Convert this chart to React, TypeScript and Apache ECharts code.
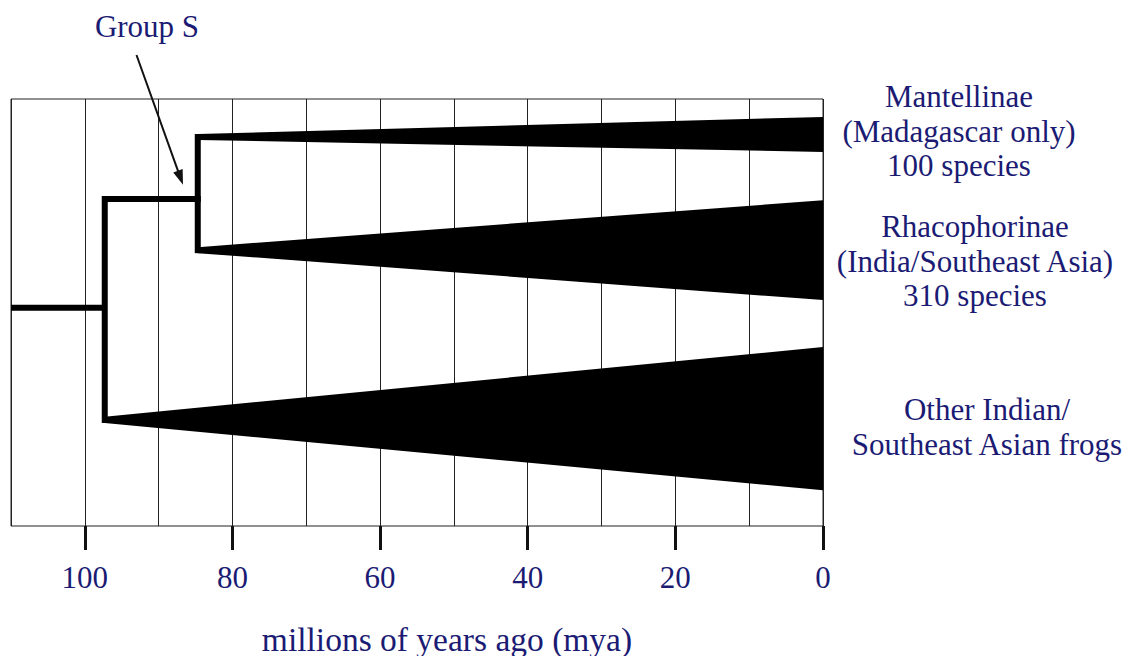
import React, { useEffect, useRef } from "react";
import * as echarts from "echarts";

// x axis: millions of years ago (reversed, 110 at left, 0 at right)
const ageTicks = [100, 80, 60, 40, 20, 0];
const axisTitle = "millions of years ago (mya)";
const annotationText = "Group S";

// clade labels (one entry per wedge)
const cladeLabels = [
  ["Mantellinae", "(Madagascar only)", "100 species"],
  ["Rhacophorinae", "(India/Southeast Asia)", "310 species"],
  ["Other Indian/", "Southeast Asian frogs"],
];

// wedges (age in mya, vertical position on a 0-100 scale, top = 0)
const wedgeStartAge = [84.7, 84.7, 97.3];
const wedgeTipTop = [8.2, 34.7, 74.4];
const wedgeTipBottom = [9.6, 36.1, 75.9];
const wedgeEndAge = [0, 0, 0];
const wedgeEndTop = [4.2, 23.7, 58.1];
const wedgeEndBottom = [12.4, 47.1, 91.6];

// tree stems [age, position]
const rootStem = [
  [110, 48.9],
  [97.3, 48.9],
];
const nodeAStem = [
  [97.3, 75.2],
  [97.3, 23.4],
  [84.7, 23.4],
];
const nodeBStem = [
  [84.7, 8.9],
  [84.7, 35.4],
];

// Group S arrow [age, position]
const arrowFrom = [93.0, -10.3];
const arrowTo = [86.7, 20.1];

export default function App() {
  const ref = useRef<HTMLDivElement>(null);

  useEffect(() => {
    const chart = echarts.init(ref.current!, null, { renderer: "svg" });
    const navy = "#1b1b74";
    const family = "Liberation Serif";

    const wedgeData = wedgeStartAge.map((s, i) => [
      s,
      wedgeTipTop[i],
      wedgeTipBottom[i],
      wedgeEndAge[i],
      wedgeEndTop[i],
      wedgeEndBottom[i],
    ]);

    const stemStyle = {
      color: "#000",
      width: 6,
      cap: "square" as const,
      join: "miter" as const,
    };

    chart.setOption({
      animation: false,
      textStyle: { fontFamily: family },
      grid: {
        left: 11,
        right: 309,
        top: 99,
        bottom: 130,
        show: true,
        borderColor: "#222",
        borderWidth: 1,
        backgroundColor: "transparent",
      },
      xAxis: [
        {
          type: "value",
          position: "top",
          min: 0,
          max: 110,
          interval: 10,
          inverse: true,
          axisLine: { show: false },
          axisTick: { show: false },
          axisLabel: { show: false },
          splitLine: { show: true, lineStyle: { color: "#222", width: 1 } },
        },
        {
          type: "value",
          position: "bottom",
          min: 0,
          max: 110,
          interval: 20,
          inverse: true,
          axisLine: { show: false },
          splitLine: { show: false },
          axisTick: {
            show: true,
            length: 24,
            customValues: ageTicks,
            lineStyle: { color: "#111", width: 3 },
          },
          axisLabel: {
            show: true,
            customValues: ageTicks,
            margin: 36,
            fontSize: 31,
            color: navy,
            fontFamily: family,
          },
        },
      ],
      yAxis: { type: "value", min: 0, max: 100, inverse: true, show: false },
      series: [
        {
          type: "custom",
          xAxisIndex: 0,
          yAxisIndex: 0,
          data: wedgeData,
          encode: { x: [0, 3], y: [1, 2, 4, 5] },
          renderItem: (params: any, api: any) => {
            const a = api.coord([api.value(0), api.value(1)]);
            const b = api.coord([api.value(3), api.value(4)]);
            const c = api.coord([api.value(3), api.value(5)]);
            const d = api.coord([api.value(0), api.value(2)]);
            return {
              type: "polygon",
              shape: { points: [a, b, c, d] },
              style: { fill: "#000" },
            };
          },
        },
        {
          type: "line",
          xAxisIndex: 0,
          data: rootStem,
          symbol: "none",
          lineStyle: { ...stemStyle, cap: "butt" as const },
        },
        { type: "line", xAxisIndex: 0, data: nodeAStem, symbol: "none", lineStyle: stemStyle },
        { type: "line", xAxisIndex: 0, data: nodeBStem, symbol: "none", lineStyle: stemStyle },
      ],
    });

    const p0 = chart.convertToPixel({ seriesIndex: 1 }, arrowFrom) as number[];
    const p1 = chart.convertToPixel({ seriesIndex: 1 }, arrowTo) as number[];
    const dx = p1[0] - p0[0];
    const dy = p1[1] - p0[1];
    const len = Math.sqrt(dx * dx + dy * dy);
    const ux = dx / len;
    const uy = dy / len;
    const headLen = 15;
    const headHalf = 5;
    const base = [p1[0] - ux * headLen, p1[1] - uy * headLen];
    const head = [
      [p1[0], p1[1]],
      [base[0] - uy * headHalf, base[1] + ux * headHalf],
      [base[0] + uy * headHalf, base[1] - ux * headHalf],
    ];

    const labelX = [959, 975, 987];
    const labelY = [131, 261, 427];

    const textStyle = (text: string, size: number, extra: any = {}) => ({
      text,
      fill: navy,
      fontSize: size,
      fontFamily: family,
      align: "center",
      verticalAlign: "middle",
      ...extra,
    });

    chart.setOption({
      graphic: [
        {
          type: "line",
          shape: { x1: p0[0], y1: p0[1], x2: base[0] + ux * 2, y2: base[1] + uy * 2 },
          style: { stroke: "#111", lineWidth: 2 },
        },
        { type: "polygon", shape: { points: head }, style: { fill: "#111" } },
        { type: "text", x: 147, y: 26, style: textStyle(annotationText, 31) },
        ...cladeLabels.map((lines, i) => ({
          type: "text",
          x: labelX[i],
          y: labelY[i],
          style: textStyle(lines.join("\n"), 31, { lineHeight: 34.5 }),
        })),
        { type: "text", x: 447, y: 639, style: textStyle(axisTitle, 33.5) },
      ],
    });

    return () => chart.dispose();
  }, []);

  return (
    <div
      ref={ref}
      style={{ position: "fixed", left: 0, top: 0, width: 1132, height: 656, background: "#fff" }}
    />
  );
}
